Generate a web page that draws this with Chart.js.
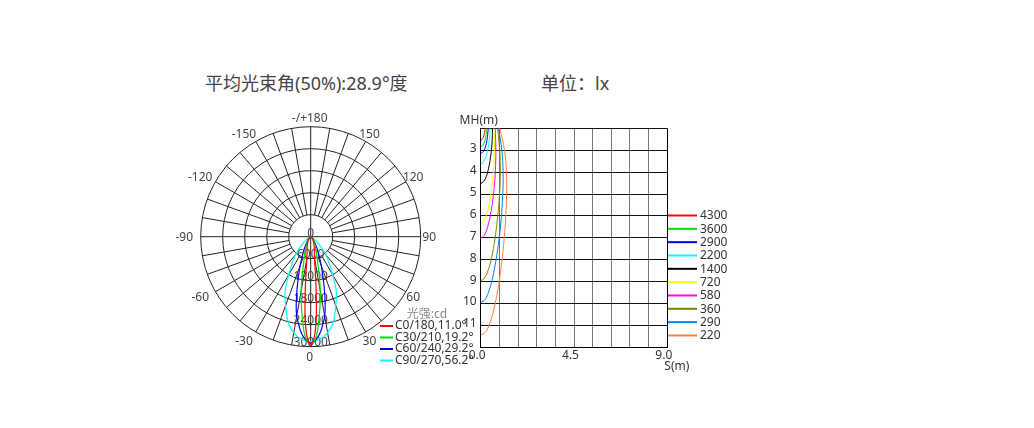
<!DOCTYPE html>
<html>
<head>
<meta charset="utf-8">
<script src="https://cdn.jsdelivr.net/npm/chart.js@4.4.0/dist/chart.umd.min.js"></script>
<style>
body { margin: 0; background: #fff; width: 1034px; height: 428px; overflow: hidden; position: relative; }
canvas { position: absolute; left: 0; top: 0; }
.title { position: absolute; font-family: "Noto Sans", "Noto Sans CJK SC", sans-serif; font-size: 18px; color: #444; white-space: nowrap; }
</style>
</head>
<body>
<div class="title" style="left:205px;top:69px">平均光束角(50%):28.9°度</div>
<div class="title" style="left:541px;top:69px">单位：lx</div>
<canvas id="polarChart" width="1034" height="428"></canvas>
<canvas id="isoChart" width="1034" height="428"></canvas>
<script>
// polar intensity curves (cd), angle measured from nadir
const polarAngles = [0, 2, 4, 6, 8, 10, 12, 15, 20, 25, 30, 40, 50, 60, 75, 90];
const c0Intensity  = [29500, 27500, 22000, 14000, 8500, 6000, 4800, 3800, 2800, 2000, 1400, 700, 300, 100, 0, 0];
const c30Intensity = [29300, 28500, 26000, 22000, 18500, 15000, 11500, 7500, 4500, 3000, 2000, 1000, 400, 150, 0, 0];
const c60Intensity = [29000, 28600, 27500, 26000, 24000, 22000, 19000, 14200, 8500, 5000, 3000, 1200, 500, 150, 0, 0];
const c90Intensity = [28500, 28400, 28200, 27800, 27300, 26500, 25700, 24000, 20000, 16500, 12000, 6500, 2500, 800, 100, 0];
const polarLabels = ['C0/180,11.0°', 'C30/210,19.2°', 'C60/240,29.2°', 'C90/270,56.2°'];
const polarColors = ['#ff0000', '#00e000', '#0000ff', '#00ffff'];
const ringValues = [6000, 12000, 18000, 24000, 30000];
const angleTicks = [-150, -120, -90, -60, -30, 0, 30, 60, 90, 120, 150, 180];

// isolux curves: [S (m), MH (m)]
const iso4300 = [[0,2.55],[0.07,2.51],[0.13,2.4],[0.17,2.26],[0.2,2.12],[0.21,2.0]];
const iso3600 = [[0,2.85],[0.09,2.8],[0.17,2.65],[0.23,2.45],[0.27,2.22],[0.29,2.0]];
const iso2900 = [[0,3.15],[0.1,3.09],[0.2,2.92],[0.27,2.7],[0.32,2.42],[0.35,2.15],[0.36,2.0]];
const iso2200 = [[0,3.62],[0.12,3.55],[0.24,3.33],[0.33,3.02],[0.4,2.65],[0.44,2.3],[0.45,2.0]];
const iso1400 = [[0,4.52],[0.13,4.44],[0.27,4.2],[0.38,3.82],[0.47,3.35],[0.53,2.85],[0.56,2.4],[0.57,2.0]];
const iso720  = [[0,6.33],[0.15,6.22],[0.3,5.9],[0.42,5.42],[0.52,4.82],[0.6,4.1],[0.65,3.3],[0.66,2.6],[0.63,2.0]];
const iso580  = [[0,7.02],[0.16,6.9],[0.32,6.55],[0.46,6.0],[0.58,5.3],[0.67,4.5],[0.72,3.7],[0.73,2.9],[0.7,2.0]];
const iso360  = [[0,8.96],[0.18,8.84],[0.37,8.45],[0.54,7.85],[0.68,7.1],[0.8,6.2],[0.89,5.3],[0.94,4.4],[0.93,3.2],[0.82,2.0]];
const iso290  = [[0,9.96],[0.2,9.84],[0.4,9.42],[0.58,8.8],[0.74,8.0],[0.88,7.1],[0.99,6.1],[1.06,5.1],[1.08,4.0],[1.02,3.0],[0.86,2.0]];
const iso220  = [[0,11.44],[0.22,11.32],[0.44,10.9],[0.64,10.25],[0.82,9.4],[0.98,8.4],[1.1,7.35],[1.2,6.2],[1.25,5.0],[1.24,4.0],[1.15,3.0],[0.92,2.0]];
const isoLevels = [4300, 3600, 2900, 2200, 1400, 720, 580, 360, 290, 220];
const isoColors = ['#ff0000', '#00e000', '#0000ff', '#00ffff', '#000000', '#ffff00', '#ff00ff', '#808000', '#0080ff', '#ff8040'];
const isoCurves = [iso4300, iso3600, iso2900, iso2200, iso1400, iso720, iso580, iso360, iso290, iso220];
const sGrid = [0, 0.9, 1.8, 2.7, 3.6, 4.5, 5.4, 6.3, 7.2, 8.1, 9.0];
const sLabels = [0, 4.5, 9];
const mhGrid = [2, 3, 4, 5, 6, 7, 8, 9, 10, 11, 12];
const mhLabels = [3, 4, 5, 6, 7, 8, 9, 10, 11];

const FONT = '12px "Noto Sans", "Noto Sans CJK SC", sans-serif';

function lobe(intens) {
    const pts = [];
    for (let i = polarAngles.length - 1; i >= 0; i--) {
        const t = polarAngles[i] * Math.PI / 180;
        pts.push({x: intens[i] * Math.sin(t), y: -intens[i] * Math.cos(t)});
    }
    for (let i = 1; i < polarAngles.length; i++) {
        const t = polarAngles[i] * Math.PI / 180;
        pts.push({x: -intens[i] * Math.sin(t), y: -intens[i] * Math.cos(t)});
    }
    return pts;
}

const polarGrid = {
    id: 'polarGrid',
    beforeDatasetsDraw(chart) {
        const ctx = chart.ctx;
        const xs = chart.scales.x, ys = chart.scales.y;
        const cx = xs.getPixelForValue(0), cy = ys.getPixelForValue(0);
        const rad = v => xs.getPixelForValue(v) - cx;
        const r0 = rad(ringValues[0]), r1 = rad(ringValues[ringValues.length - 1]);
        ctx.save();
        ctx.strokeStyle = '#222';
        ctx.lineWidth = 1;
        ringValues.forEach(v => {
            ctx.beginPath();
            ctx.arc(cx, cy, rad(v), 0, 2 * Math.PI);
            ctx.stroke();
        });
        for (let a = 0; a < 360; a += 10) {
            const t = a * Math.PI / 180;
            const start = a % 90 === 0 ? 0 : r0;
            ctx.beginPath();
            ctx.moveTo(cx + start * Math.sin(t), cy + start * Math.cos(t));
            ctx.lineTo(cx + r1 * Math.sin(t), cy + r1 * Math.cos(t));
            ctx.stroke();
        }
        // ring values along the lower axis
        ctx.font = FONT;
        ctx.fillStyle = '#444';
        ctx.textAlign = 'center';
        ctx.textBaseline = 'middle';
        ctx.fillText('0', cx, cy - 3);
        ringValues.forEach(v => ctx.fillText(String(v), cx, cy + rad(v) - 4));
        ctx.restore();
    },
    afterDatasetsDraw(chart) {
        const ctx = chart.ctx;
        const xs = chart.scales.x, ys = chart.scales.y;
        const cx = xs.getPixelForValue(0), cy = ys.getPixelForValue(0);
        const R = xs.getPixelForValue(ringValues[ringValues.length - 1]) - cx + 9.5;
        ctx.save();
        ctx.font = FONT;
        ctx.fillStyle = '#444';
        ctx.textAlign = 'center';
        ctx.textBaseline = 'middle';
        angleTicks.forEach(a => {
            const t = a * Math.PI / 180;
            const txt = a === 180 ? '-/+180' : String(a);
            const shift = a < 0 ? -7 : -1;
            ctx.fillText(txt, cx + R * Math.sin(t) + shift, cy + R * Math.cos(t) + 1);
        });
        // legend
        ctx.fillStyle = '#888';
        ctx.fillText('光强:cd', 427, 315);
        ctx.textAlign = 'left';
        polarLabels.forEach((lab, i) => {
            const y = 326 + i * 11.5;
            ctx.strokeStyle = polarColors[i];
            ctx.lineWidth = 2;
            ctx.beginPath();
            ctx.moveTo(380, y);
            ctx.lineTo(393, y);
            ctx.stroke();
            ctx.fillStyle = '#333';
            ctx.fillText(lab, 395, y);
        });
        ctx.restore();
    }
};

new Chart(document.getElementById('polarChart'), {
    type: 'scatter',
    data: {
        datasets: [c0Intensity, c30Intensity, c60Intensity, c90Intensity].map((d, i) => ({
            label: polarLabels[i],
            data: lobe(d),
            borderColor: polarColors[i],
            borderWidth: 1.2,
            showLine: true,
            pointRadius: 0,
            tension: 0.3
        }))
    },
    options: {
        responsive: false,
        animation: false,
        layout: {padding: {left: 200.7, top: 126.7, right: 1034 - 420.7, bottom: 428 - 346.7}},
        plugins: {legend: {display: false}, tooltip: {enabled: false}},
        scales: {
            x: {type: 'linear', display: false, min: -30000, max: 30000},
            y: {type: 'linear', display: false, min: -30000, max: 30000}
        }
    },
    plugins: [polarGrid]
});

const isoLabels = {
    id: 'isoLabels',
    afterDraw(chart) {
        const ctx = chart.ctx;
        const xs = chart.scales.x, ys = chart.scales.y;
        ctx.save();
        ctx.font = FONT;
        ctx.fillStyle = '#333';
        ctx.textBaseline = 'middle';
        ctx.textAlign = 'right';
        mhLabels.forEach(v => ctx.fillText(String(v), xs.left - 4, ys.getPixelForValue(v) - 1.5));
        ctx.textAlign = 'center';
        sLabels.forEach(v => ctx.fillText(v.toFixed(1), xs.getPixelForValue(v) - 3.5, ys.bottom + 8));
        ctx.fillText('MH(m)', xs.left - 2, ys.top - 8);
        ctx.textAlign = 'left';
        ctx.fillText('S(m)', xs.right - 3, ys.bottom + 19);
        isoLevels.forEach((lv, i) => {
            const y = 215.5 + i * 13.33;
            ctx.strokeStyle = isoColors[i];
            ctx.lineWidth = 2;
            ctx.beginPath();
            ctx.moveTo(668, y);
            ctx.lineTo(697, y);
            ctx.stroke();
            ctx.fillText(String(lv), 700, y + 0.5);
        });
        ctx.restore();
    }
};

new Chart(document.getElementById('isoChart'), {
    type: 'scatter',
    data: {
        datasets: isoCurves.map((pts, i) => ({
            label: String(isoLevels[i]),
            data: pts.map(p => ({x: p[0], y: p[1]})),
            borderColor: isoColors[i],
            borderWidth: 1,
            showLine: true,
            pointRadius: 0,
            tension: 0.4
        }))
    },
    options: {
        responsive: false,
        animation: false,
        layout: {padding: {left: 480.7, top: 128.3, right: 1034 - 667.3, bottom: 428 - 347.3}},
        plugins: {legend: {display: false}, tooltip: {enabled: false}},
        scales: {
            x: {
                type: 'linear', min: 0, max: 9,
                afterBuildTicks: s => { s.ticks = sGrid.map(v => ({value: v})); },
                ticks: {display: false},
                grid: {drawTicks: false, color: c => (c.tick && c.tick.value === 9 ? '#000' : '#777')},
                border: {color: '#000'}
            },
            y: {
                type: 'linear', min: 2, max: 12, reverse: true,
                afterBuildTicks: s => { s.ticks = mhGrid.map(v => ({value: v})); },
                ticks: {display: false},
                grid: {drawTicks: false, color: '#111'},
                border: {color: '#000'}
            }
        }
    },
    plugins: [isoLabels]
});
</script>
</body>
</html>
